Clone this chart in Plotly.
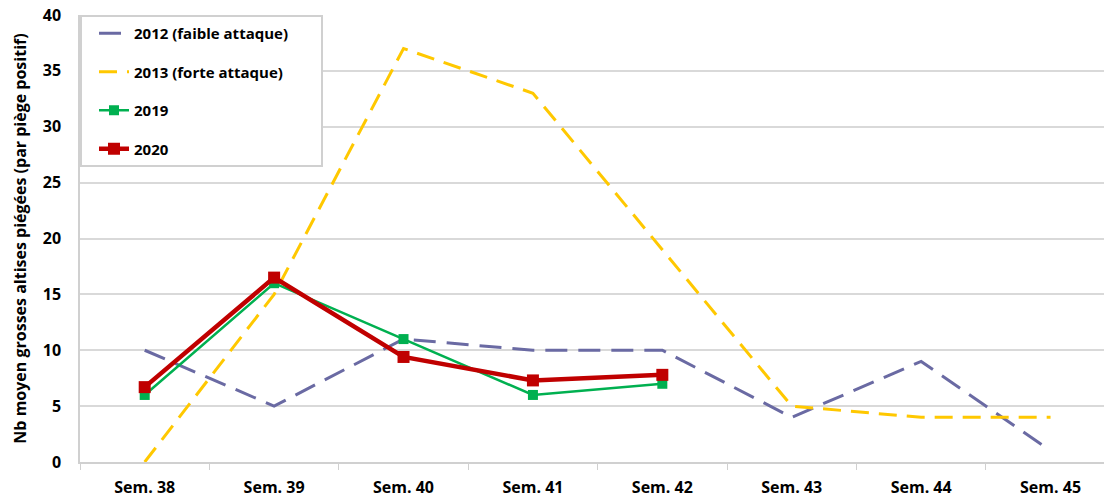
import plotly.graph_objects as go

weeks = ["Sem. 38", "Sem. 39", "Sem. 40", "Sem. 41", "Sem. 42", "Sem. 43", "Sem. 44", "Sem. 45"]
y2012 = [10, 5, 11, 10, 10, 4, 9, 1]
y2013 = [0, 15, 37, 33, 19, 5, 4, 4]
y2019 = [6, 16, 11, 6, 7]
y2020 = [6.7, 16.5, 9.4, 7.3, 7.8]

FONT = "Open Sans"
PAD = "\u00a0" * 7

fig = go.Figure()
fig.add_trace(go.Scatter(x=weeks, y=y2012, mode="lines", name="<b>2012 (faible attaque)</b>" + PAD,
                         line=dict(color="#6A6AA3", width=3, dash="22px,11px"), legendgroup="a"))
fig.add_trace(go.Scatter(x=weeks, y=y2013, mode="lines", name="<b>2013 (forte attaque)</b>",
                         line=dict(color="#FFC800", width=3, dash="18px,10px"), legendgroup="b"))
fig.add_trace(go.Scatter(x=weeks[:len(y2019)], y=y2019, mode="lines+markers", name="<b>2019</b>",
                         line=dict(color="#00B050", width=2.5),
                         marker=dict(symbol="square", size=10, color="#00B050"), legendgroup="c"))
fig.add_trace(go.Scatter(x=weeks[:len(y2020)], y=y2020, mode="lines+markers", name="<b>2020</b>",
                         line=dict(color="#C00000", width=4.5),
                         marker=dict(symbol="square", size=12, color="#C00000"), legendgroup="d"))

fig.update_layout(
    width=1104, height=501,
    margin=dict(l=80, r=0, t=15, b=39, autoexpand=False),
    paper_bgcolor="white", plot_bgcolor="white",
    font=dict(family=FONT, color="black"),
    showlegend=True,
    legend=dict(x=0.0, y=1.0, xanchor="left", yanchor="top",
                bgcolor="white", bordercolor="#D0D0D0", borderwidth=2,
                font=dict(size=15, family=FONT, color="black"),
                tracegroupgap=16, traceorder="grouped", indentation=12),
    xaxis=dict(type="category", categoryorder="array", categoryarray=weeks,
               range=[-0.5, 7.413], showgrid=False, tickson="boundaries",
               ticks="outside", ticklen=6, tickcolor="#D0D0D0", automargin=False,
               showline=True, linecolor="#D0D0D0", linewidth=1.5,
               tickfont=dict(size=16, family=FONT, color="black"),
               tickprefix="<b>", ticksuffix="</b>", ticklabelstandoff=10),
    yaxis=dict(range=[0, 40], dtick=5, showgrid=True, gridcolor="#D9D9D9", gridwidth=1.5,
               zeroline=False, showline=True, linecolor="#D0D0D0", linewidth=1.5,
               ticks="", tickfont=dict(size=16, family=FONT, color="black"), automargin=False,
               tickprefix="<b>", ticksuffix="</b>", ticklabelstandoff=14,
               title=dict(text="<b>Nb moyen grosses altises piégées (par piège positif)</b>",
                          font=dict(size=16, family=FONT, color="black"), standoff=12)),
)

fig.write_html("out.html", config={"displayModeBar": False},
               post_script="document.body.style.margin='0';document.body.style.overflow='hidden';")
